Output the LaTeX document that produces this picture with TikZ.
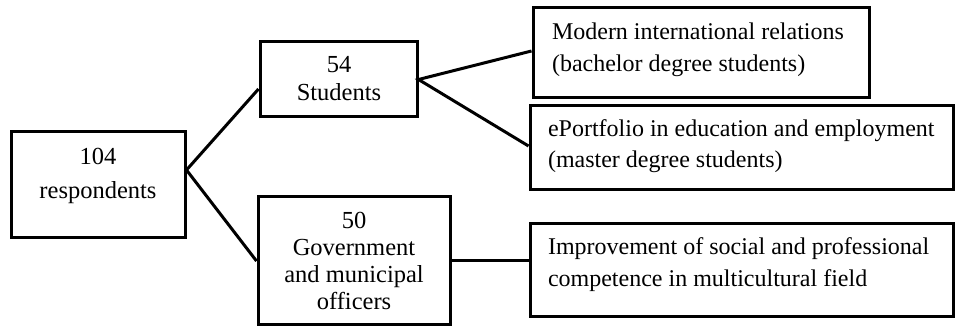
\documentclass[tikz,border=0pt]{standalone}
\usepackage{fontspec}
\setmainfont{Liberation Serif}
\begin{document}
\begin{tikzpicture}[x=1pt,y=-1pt,
  box/.style={draw=black,line width=3pt,rectangle,inner sep=0pt},
  conn/.style={draw=black,line width=3pt},
  txt/.style={inner sep=0pt,outer sep=0pt}]
\useasboundingbox (0,0) rectangle (955,328);
% boxes
\node[box,minimum width=174pt,minimum height=106pt] (r104) at (98,185) {};
\node[box,minimum width=157pt,minimum height=75pt] (s54) at (338.5,79.5) {};
\node[box,minimum width=192pt,minimum height=128pt] (g50) at (354,261) {};
\node[box,minimum width=336pt,minimum height=90pt] (mir) at (701,53) {};
\node[box,minimum width=423pt,minimum height=84pt] (epf) at (741.5,148) {};
\node[box,minimum width=423pt,minimum height=93pt] (imp) at (741.5,270.5) {};
% texts (base anchor = baseline of last line)
\node[txt,anchor=base,align=center,font=\fontsize{24.5}{34}\selectfont] (t104) at (98,199) {104\\respondents};
\node[txt,anchor=base,align=center,font=\fontsize{24.5}{28}\selectfont] (t54) at (339,101) {54\\Students};
\node[txt,anchor=base,align=center,font=\fontsize{24.5}{27.3}\selectfont] (t50) at (354,310) {50\\Government\\and municipal\\officers};
\node[txt,anchor=base west,align=left,font=\fontsize{24}{32}\selectfont] (tmir) at (552,72) {Modern international relations\\(bachelor degree students)};
\node[txt,anchor=base west,align=left,font=\fontsize{24}{31}\selectfont] (tepf) at (548,168) {ePortfolio in education and employment\\(master degree students)};
\node[txt,anchor=base west,align=left,font=\fontsize{24}{32}\selectfont] (timp) at (548,287) {Improvement of social and professional\\competence in multicultural field};
% connectors
\coordinate (c104) at ([yshift=15pt]r104.east);
\draw[conn] ([yshift=-9.5pt]s54.west) -- (c104) -- (g50.west);
\draw[conn] ([yshift=2pt]mir.west) -- (s54.east) -- ([yshift=2pt]epf.west);
\draw[conn] (g50.east) -- (g50.east -| imp.west);
\end{tikzpicture}
\end{document}
